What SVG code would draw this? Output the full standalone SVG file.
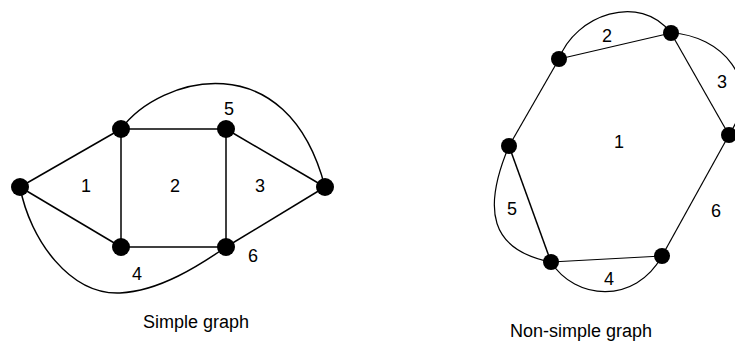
<svg xmlns="http://www.w3.org/2000/svg" width="735" height="344" viewBox="0 0 735 344">
<style>
.e{fill:none;stroke:#000;stroke-width:1.5}
.t{fill:none;stroke:#000;stroke-width:1.2}
.n{fill:#000}
text{font-family:"Liberation Sans",Arial,sans-serif;font-size:18px;fill:#000;text-anchor:middle}
</style>
<rect width="735" height="344" fill="#fff"/>
<g id="connectors">
<line class="e" x1="20" y1="187" x2="121" y2="129"/>
<line class="e" x1="20" y1="187" x2="121" y2="247"/>
<line class="e" x1="121" y1="129" x2="226" y2="129"/>
<line class="e" x1="121" y1="129" x2="121" y2="247"/>
<line class="e" x1="121" y1="247" x2="226" y2="247"/>
<line class="e" x1="226" y1="129" x2="226" y2="247"/>
<line class="e" x1="226" y1="129" x2="325" y2="187"/>
<line class="e" x1="226" y1="247" x2="325" y2="187"/>
<path class="e" d="M121,129 C160,76 287,42 325,187"/>
<path class="e" d="M20,187 C30,240 70,295 120,293 C160,291 200,265 226,247"/>
<line class="t" x1="559" y1="59" x2="671" y2="33"/>
<line class="t" x1="671" y1="33" x2="729" y2="135"/>
<line class="t" x1="729" y1="135" x2="662" y2="256"/>
<line class="t" x1="662" y1="256" x2="551" y2="262"/>
<line class="e" x1="551" y1="262" x2="509" y2="146"/>
<line class="t" x1="509" y1="146" x2="559" y2="59"/>
<path class="t" d="M559,59 C575,15 640,-8 671,33"/>
<path class="t" d="M671,33 C720,35 765,80 729,135"/>
<path class="t" d="M509,146 C482,210 490,250 551,262"/>
<path class="t" d="M551,262 C575,300 635,305 662,256"/>
</g>
<g id="simple-nodes">
<circle id="s1" class="n" cx="20" cy="187" r="9"/>
<circle id="s2" class="n" cx="121" cy="129" r="9"/>
<circle id="s3" class="n" cx="226" cy="129" r="9"/>
<circle id="s4" class="n" cx="121" cy="247" r="9"/>
<circle id="s5" class="n" cx="226" cy="247" r="9"/>
<circle id="s6" class="n" cx="325" cy="187" r="9"/>
</g>
<g id="nonsimple-nodes">
<circle id="n1" class="n" cx="559" cy="59" r="8"/>
<circle id="n2" class="n" cx="671" cy="33" r="8"/>
<circle id="n3" class="n" cx="729" cy="135" r="8"/>
<circle id="n4" class="n" cx="662" cy="256" r="8"/>
<circle id="n5" class="n" cx="551" cy="262" r="8"/>
<circle id="n6" class="n" cx="509" cy="146" r="8"/>
</g>
<g id="labels">
<text x="86" y="192">1</text>
<text x="175" y="192">2</text>
<text x="260" y="192">3</text>
<text x="137" y="280">4</text>
<text x="229" y="115">5</text>
<text x="253" y="262">6</text>
<text x="619" y="148">1</text>
<text x="607" y="42">2</text>
<text x="722" y="88">3</text>
<text x="609" y="285">4</text>
<text x="512" y="215">5</text>
<text x="716" y="217">6</text>
<text x="196" y="328">Simple graph</text>
<text x="581" y="337">Non-simple graph</text>
</g>
</svg>
